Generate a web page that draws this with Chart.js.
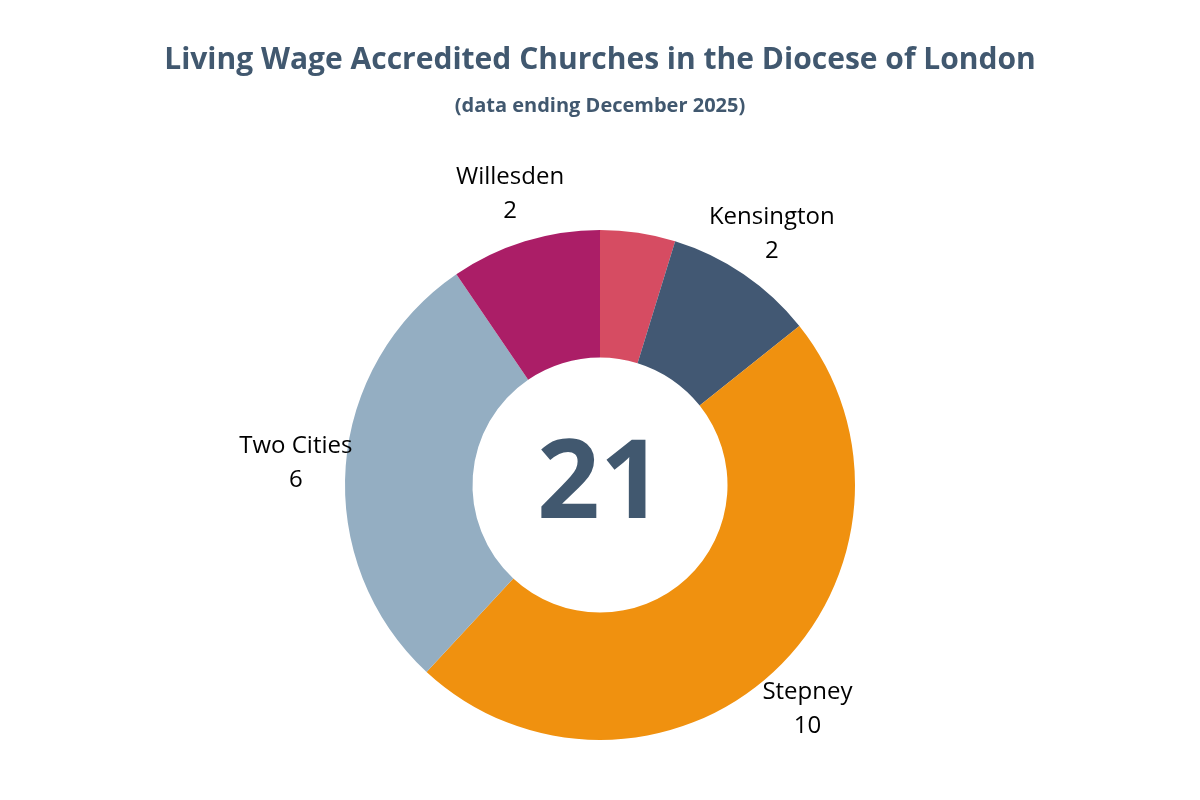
<!DOCTYPE html>
<html>
<head>
<meta charset="utf-8">
<script src="https://cdn.jsdelivr.net/npm/chart.js@4"></script>
<style>
  html, body { margin: 0; padding: 0; background: #ffffff; }
  #wrap { width: 1200px; height: 800px; }
</style>
</head>
<body>
<div id="wrap"><canvas id="churchChart"></canvas></div>
<script>
// Data
const areas = ['London', 'Kensington', 'Stepney', 'Two Cities', 'Willesden'];
const churches = [1, 2, 10, 6, 2];
const sliceColours = ['#d64c62', '#425873', '#f0910f', '#94aec2', '#ab1e67'];
const showLabel = [false, true, true, true, true];
const totalText = '21';

const titleText = 'Living Wage Accredited Churches in the Diocese of London';
const subtitleText = '(data ending December 2025)';
const textBlue = '#41586f';

// Titles, centre number and outside labels
const decorations = {
    id: 'decorations',
    afterDraw(chart) {
        const ctx = chart.ctx;
        ctx.save();
        ctx.textAlign = 'center';
        ctx.textBaseline = 'middle';
        ctx.fillStyle = textBlue;
        ctx.font = 'bold 30px "Open Sans"';
        ctx.fillText(titleText, 600, 60);
        ctx.font = 'bold 20px "Open Sans"';
        ctx.fillText(subtitleText, 600, 106);

        const arcs = chart.getDatasetMeta(0).data;
        const cx = arcs[0].x, cy = arcs[0].y;
        ctx.font = 'bold 110px "Open Sans"';
        ctx.fillText(totalText, cx, cy + 2);

        ctx.fillStyle = '#000000';
        ctx.font = '24px "Open Sans"';
        arcs.forEach(function (arc, i) {
            if (!showLabel[i]) return;
            const mid = (arc.startAngle + arc.endAngle) / 2;
            const r = arc.outerRadius + 50;
            const x = cx + Math.cos(mid) * r;
            const y = cy + Math.sin(mid) * r;
            ctx.fillText(areas[i], x, y - 16);
            ctx.fillText(String(churches[i]), x, y + 18);
        });
        ctx.restore();
    }
};

new Chart(document.getElementById('churchChart'), {
    type: 'doughnut',
    data: {
        labels: areas,
        datasets: [{
            data: churches,
            backgroundColor: sliceColours,
            borderWidth: 0
        }]
    },
    options: {
        responsive: true,
        maintainAspectRatio: false,
        animation: false,
        cutout: '50%',
        layout: { padding: { top: 230, bottom: 60 } },
        plugins: {
            legend: { display: false },
            tooltip: { enabled: false }
        }
    },
    plugins: [decorations]
});
</script>
</body>
</html>
